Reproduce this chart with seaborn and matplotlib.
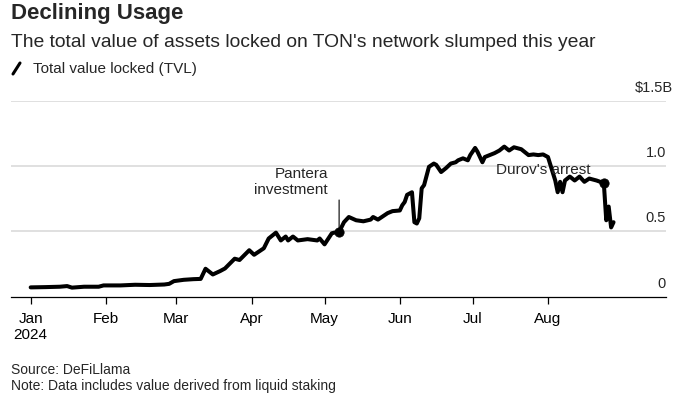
import matplotlib
import pandas as pd
import matplotlib.pyplot as plt
from matplotlib.lines import Line2D
import seaborn as sns

matplotlib.use("Agg")

# TVL on TON, billions of dollars
dates = [
    "2024-01-01", "2024-01-07", "2024-01-13", "2024-01-16", "2024-01-18", "2024-01-23",
    "2024-01-29", "2024-01-31", "2024-02-07", "2024-02-13", "2024-02-19", "2024-02-25",
    "2024-02-27", "2024-02-29", "2024-03-04", "2024-03-08", "2024-03-11", "2024-03-13",
    "2024-03-16", "2024-03-19", "2024-03-21", "2024-03-25", "2024-03-27", "2024-03-31",
    "2024-04-02", "2024-04-06", "2024-04-08", "2024-04-11", "2024-04-13", "2024-04-15",
    "2024-04-16", "2024-04-18", "2024-04-20", "2024-04-24", "2024-04-28", "2024-04-29",
    "2024-05-01", "2024-05-04", "2024-05-05", "2024-05-07", "2024-05-09", "2024-05-11",
    "2024-05-14", "2024-05-17", "2024-05-20", "2024-05-21", "2024-05-23", "2024-05-27",
    "2024-05-29", "2024-06-01", "2024-06-02", "2024-06-03", "2024-06-04", "2024-06-06",
    "2024-06-07", "2024-06-08", "2024-06-09", "2024-06-10", "2024-06-11", "2024-06-13",
    "2024-06-15", "2024-06-16", "2024-06-18", "2024-06-20", "2024-06-22", "2024-06-24",
    "2024-06-25", "2024-06-27", "2024-06-29", "2024-06-30", "2024-07-02", "2024-07-03",
    "2024-07-05", "2024-07-06", "2024-07-08", "2024-07-10", "2024-07-12", "2024-07-14",
    "2024-07-16", "2024-07-18", "2024-07-21", "2024-07-23", "2024-07-24", "2024-07-26",
    "2024-07-28", "2024-07-30", "2024-08-01", "2024-08-02", "2024-08-04", "2024-08-05",
    "2024-08-06", "2024-08-07", "2024-08-08", "2024-08-10", "2024-08-12", "2024-08-14",
    "2024-08-16", "2024-08-18", "2024-08-21", "2024-08-24", "2024-08-25", "2024-08-26",
    "2024-08-27", "2024-08-28",
]
tvl = [
    0.070, 0.072, 0.075, 0.080, 0.068, 0.075,
    0.075, 0.085, 0.085, 0.090, 0.088, 0.092,
    0.097, 0.118, 0.128, 0.133, 0.135, 0.213,
    0.169, 0.195, 0.215, 0.290, 0.280, 0.355,
    0.320, 0.370, 0.445, 0.490, 0.430, 0.460,
    0.430, 0.460, 0.430, 0.440, 0.430, 0.445,
    0.400, 0.485, 0.490, 0.495, 0.570, 0.610,
    0.585, 0.577, 0.590, 0.610, 0.590, 0.640,
    0.655, 0.660, 0.700, 0.725, 0.780, 0.800,
    0.570, 0.560, 0.600, 0.830, 0.855, 0.995,
    1.020, 1.010, 0.955, 0.985, 1.020, 1.030,
    1.045, 1.060, 1.045, 1.085, 1.140, 1.110,
    1.030, 1.070, 1.085, 1.100, 1.120, 1.150,
    1.120, 1.145, 1.130, 1.100, 1.085, 1.090,
    1.085, 1.090, 1.070, 1.010, 0.890, 0.800,
    0.880, 0.800, 0.890, 0.920, 0.890, 0.920,
    0.880, 0.905, 0.890, 0.870, 0.585, 0.690,
    0.530, 0.570,
]

events = ["Pantera\ninvestment", "Durov's arrest"]
event_dates = ["2024-05-07", "2024-08-24"]

y_ticks = [0, 0.5, 1.0, 1.5]
y_labels = ["0", "0.5", "1.0", "$1.5B"]
month_ticks = ["2024-01-01", "2024-02-01", "2024-03-01", "2024-04-01",
               "2024-05-01", "2024-06-01", "2024-07-01", "2024-08-01"]
month_labels = ["Jan\n2024", "Feb", "Mar", "Apr", "May", "Jun", "Jul", "Aug"]

df = pd.DataFrame({"date": pd.to_datetime(dates), "tvl": tvl})

sns.set_theme(style="white")
plt.rcParams["font.family"] = ["Liberation Sans", "DejaVu Sans"]

fig = plt.figure(figsize=(6.75, 3.99), dpi=100)
ax = fig.add_axes([11 / 675, 1 - 296.5 / 399, 655 / 675, 195.5 / 399])

sns.lineplot(data=df, x="date", y="tvl", ax=ax, color="black", linewidth=2.9)

# event markers
ev = df.set_index("date").loc[pd.to_datetime(event_dates), "tvl"]
sns.scatterplot(x=ev.index, y=ev.values, ax=ax, color="black", s=45,
                edgecolor="black", zorder=5, legend=False)

ax.set_ylim(0, 1.5)
start = pd.Timestamp("2024-01-01")
ax.set_xlim(start - pd.Timedelta(days=8.1), start + pd.Timedelta(days=261.6))

# gridlines drawn by hand so the zero line stays black
for v in y_ticks[1:]:
    ax.axhline(v, color="#dddddd", linewidth=1.3, zorder=0)
ax.set_yticks([])
yax = ax.get_yaxis_transform()
for v, lab in zip(y_ticks, y_labels):
    if lab.startswith("$"):
        # wider top label hangs past the others but stays inside the figure
        ax.annotate(lab, xy=(1, v), xycoords=yax, xytext=(7, 9),
                    textcoords="offset pixels", ha="right", va="baseline",
                    fontsize=10.5, annotation_clip=False)
    else:
        ax.annotate(lab, xy=(1, v), xycoords=yax, xytext=(0, 9),
                    textcoords="offset pixels", ha="right", va="baseline",
                    fontsize=10.5)

ax.set_xticks(pd.to_datetime(month_ticks))
ax.set_xticklabels(month_labels, fontsize=11)
ax.tick_params(axis="x", direction="out", length=5, width=0.9, pad=6,
               bottom=True, colors="black")
ax.set_xlabel("")
ax.set_ylabel("")

for side in ["top", "right", "left"]:
    ax.spines[side].set_visible(False)
ax.spines["bottom"].set_color("black")
ax.spines["bottom"].set_linewidth(0.9)

pd_date, pd_val = ev.index[0], ev.values[0]
ax.annotate("", xy=(pd_date, pd_val), xytext=(0, 32), textcoords="offset pixels",
            arrowprops=dict(arrowstyle="-", color="black", lw=0.8, shrinkA=0, shrinkB=0))
ax.annotate(events[0], xy=(pd_date, pd_val), xytext=(-11, 50),
            textcoords="offset pixels", ha="right", va="center", fontsize=11,
            multialignment="right", linespacing=1.1)

du_date, du_val = ev.index[1], ev.values[1]
ax.annotate(events[1], xy=(du_date, du_val), xytext=(-13, 13),
            textcoords="offset pixels", ha="right", va="center", fontsize=11)

fig.text(11 / 675, 1 - 19 / 399, "Declining Usage", fontsize=16,
         fontweight="bold", va="baseline")
fig.text(11 / 675, 1 - 47 / 399,
         "The total value of assets locked on TON's network slumped this year",
         fontsize=13.9, va="baseline")
fig.add_artist(Line2D([13 / 675, 20 / 675], [1 - 74 / 399, 1 - 63 / 399],
                      color="black", linewidth=2.2))
fig.text(33 / 675, 1 - 73 / 399, "Total value locked (TVL)", fontsize=11,
         va="baseline")

fig.text(11 / 675, 1 - 374 / 399, "Source: DeFiLlama", fontsize=10,
         va="baseline")
fig.text(11 / 675, 1 - 390 / 399,
         "Note: Data includes value derived from liquid staking", fontsize=10,
         va="baseline")

fig.savefig("out.png", dpi=100)
